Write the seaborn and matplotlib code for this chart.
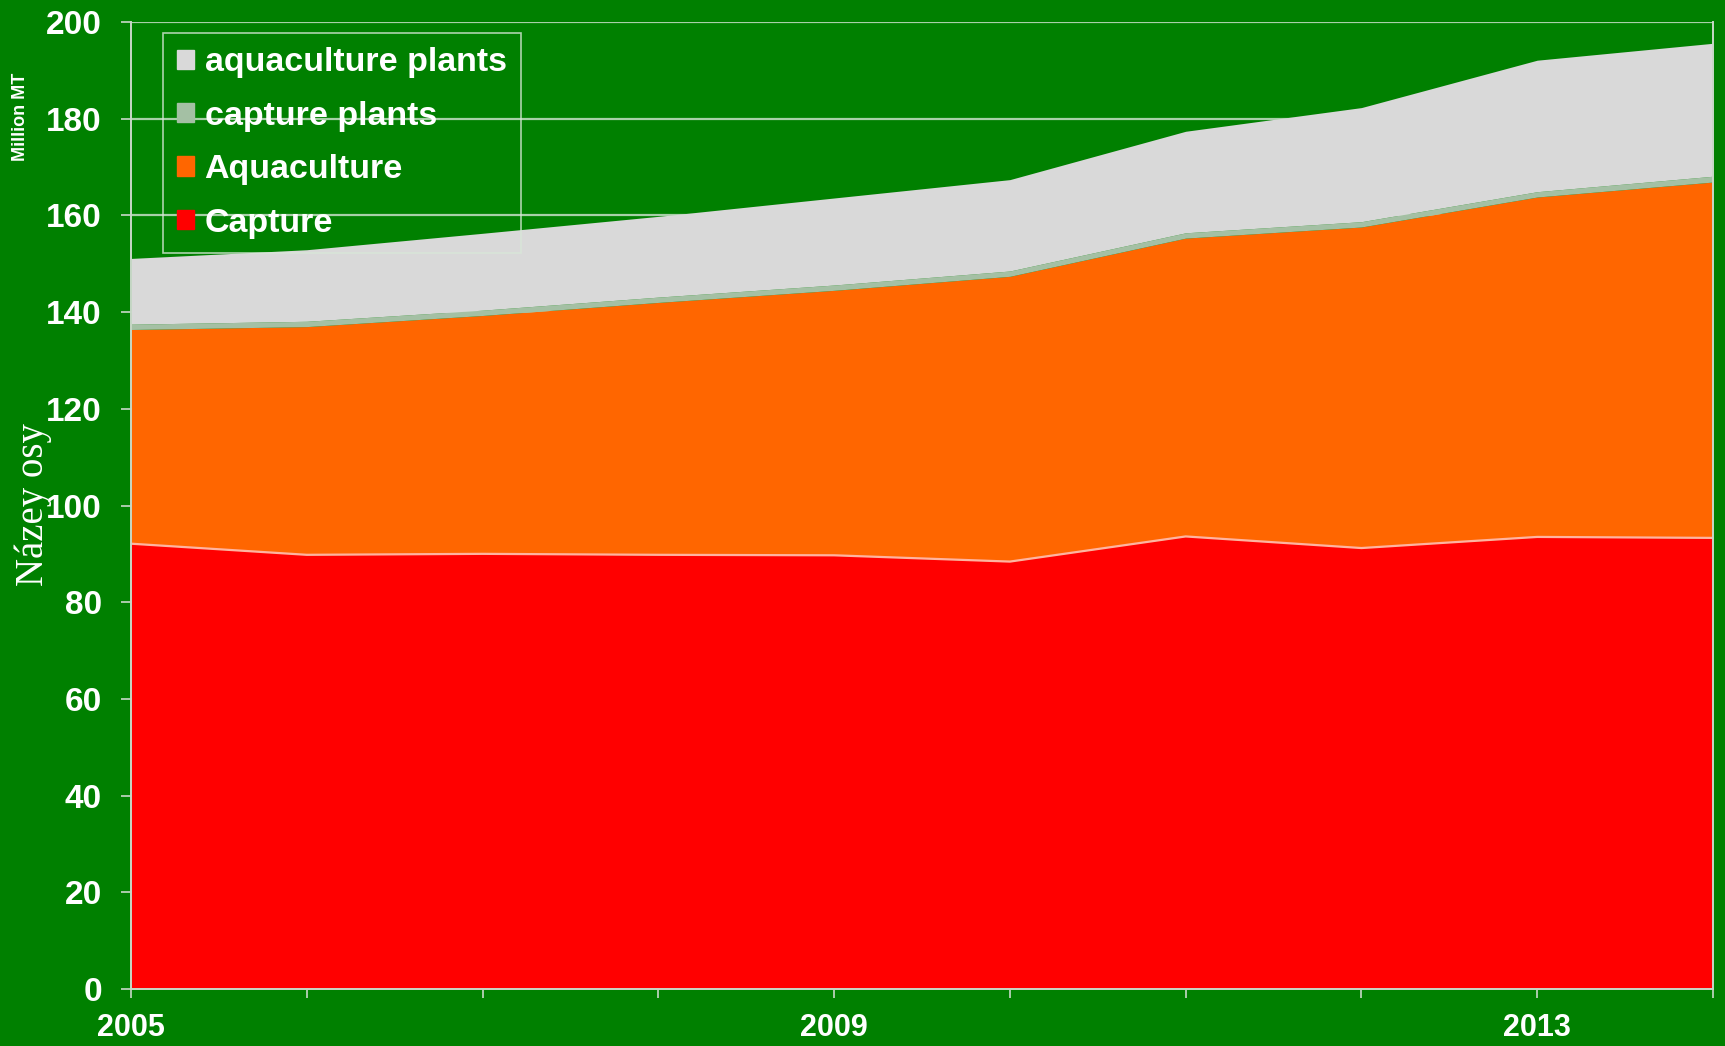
import matplotlib
matplotlib.use("Agg")
import matplotlib.pyplot as plt
import matplotlib.patches as mpatches
import numpy as np
import pandas as pd
import seaborn as sns

# World fisheries and aquaculture production, million tonnes
years = [2005, 2006, 2007, 2008, 2009, 2010, 2011, 2012, 2013, 2014]
capture = [92.1, 89.8, 90.0, 89.8, 89.7, 88.4, 93.6, 91.2, 93.5, 93.3]
aquaculture = [44.3, 47.2, 49.3, 52.2, 54.8, 59.0, 61.7, 66.4, 70.3, 73.6]
capture_plants = [1.1, 1.1, 1.1, 1.1, 1.1, 1.1, 1.1, 1.1, 1.1, 1.2]
aquaculture_plants = [13.6, 14.8, 15.9, 16.7, 18.0, 18.9, 21.0, 23.6, 27.2, 27.5]

series_names = ["Capture", "Aquaculture", "capture plants", "aquaculture plants"]
series_colors = ["#ff0000", "#ff6600", "#a4c0a4", "#d9d9d9"]
y_ticks = [0, 20, 40, 60, 80, 100, 120, 140, 160, 180, 200]
x_tick_labels = {2005: "2005", 2009: "2009", 2013: "2013"}

df = pd.DataFrame({
    "year": years,
    "Capture": capture,
    "Aquaculture": aquaculture,
    "capture plants": capture_plants,
    "aquaculture plants": aquaculture_plants,
})

sns.set_theme(style="white")
plt.rcParams["font.family"] = ["Liberation Sans", "DejaVu Sans"]

BG = "#008000"
AXC = "#c8d8c8"

fig = plt.figure(figsize=(17.25, 10.46), dpi=100, facecolor=BG)
ax = fig.add_axes([131 / 1725, 1 - 989 / 1046, (1713 - 131) / 1725, (989 - 22) / 1046])
ax.set_facecolor(BG)

# horizontal gridlines sit behind the filled areas
for v in y_ticks:
    ax.axhline(v, color="#a8d0a8", lw=1.6, zorder=0)

ax.stackplot(df["year"], *[df[n] for n in series_names],
             colors=series_colors, linewidth=0, zorder=2)

# thin light edge along the top of the capture area
sns.lineplot(x=df["year"], y=df["Capture"], ax=ax, color="#ffb4a0",
             lw=1.6, zorder=3, legend=False)

ax.set_xlim(2005, 2014)
ax.set_ylim(0, 200)
ax.set_yticks(y_ticks)
ax.set_yticklabels([str(v) for v in y_ticks])
ax.set_xticks(years)
ax.set_xticklabels([x_tick_labels.get(y, "") for y in years])
ax.set_xlabel("")
ax.set_ylabel("")

for lab in ax.get_yticklabels():
    lab.set_fontsize(24)
    lab.set_fontweight("bold")
    lab.set_color("white")
for lab in ax.get_xticklabels():
    lab.set_fontsize(22)
    lab.set_fontweight("bold")
    lab.set_color("white")

ax.tick_params(axis="y", direction="out", length=7, width=1.2, color=AXC, pad=14, left=True)
ax.tick_params(axis="x", direction="out", length=6.5, width=1.2, color=AXC, pad=11, bottom=True)

for side in ["left", "bottom", "right"]:
    ax.spines[side].set_visible(True)
    ax.spines[side].set_color(AXC)
    ax.spines[side].set_linewidth(1.4)
    ax.spines[side].set_zorder(4)
ax.spines["top"].set_visible(False)

# legend, top series first
handles = [mpatches.Patch(facecolor=c, edgecolor=c, label=n)
           for n, c in zip(series_names, series_colors)][::-1]
leg = fig.legend(handles=handles, loc="upper left",
                 bbox_to_anchor=(163 / 1725, 1 - 33 / 1046),
                 borderaxespad=0, frameon=True, fancybox=False,
                 prop={"family": "Liberation Sans", "weight": "bold", "size": 24.5},
                 handlelength=0.5, handleheight=0.5, handletextpad=0.3,
                 labelspacing=0.66, borderpad=0.42)
leg.get_frame().set_facecolor("none")
leg.get_frame().set_edgecolor("#d8e8d8")
leg.get_frame().set_linewidth(1.2)
for t in leg.get_texts():
    t.set_color("white")

fig.text(21 / 1725, 1 - 117 / 1046, "Million MT", rotation=90, color="white",
         fontsize=13, fontweight="bold", ha="center", va="center")
fig.text(33 / 1725, 1 - 505 / 1046, "Názey osy", rotation=90, color="white",
         fontsize=28, family=["Liberation Serif", "DejaVu Serif"],
         ha="center", va="center")

fig.savefig("out.png", dpi=100, facecolor=BG)
